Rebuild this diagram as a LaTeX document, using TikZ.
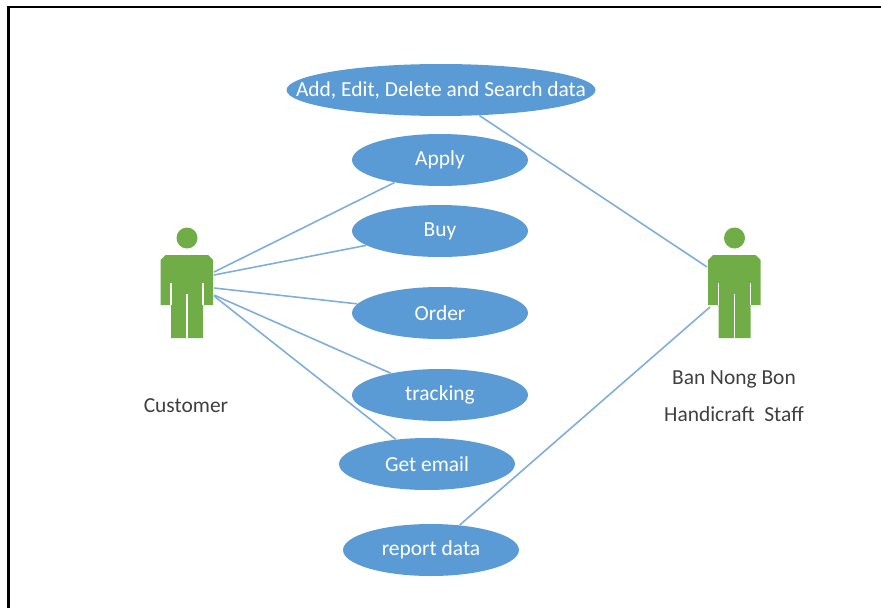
\documentclass[tikz,border=0pt]{standalone}
\usepackage{fontspec}
\setmainfont{Carlito}
\usetikzlibrary{shapes.geometric}
\definecolor{ucblue}{HTML}{5B9BD5}
\definecolor{lineblue}{HTML}{7FAEDB}
\definecolor{actgreen}{HTML}{70AD47}
\definecolor{txt}{HTML}{404040}
\newcommand{\ctext}[1]{\makebox[0pt][c]{\raisebox{-1pt}{#1}}}
\tikzset{
  x=0.02cm,y=-0.02cm,
  usecase/.style={ellipse,fill=ucblue,draw=none,inner sep=0pt,minimum width=3.52cm,minimum height=1.04cm,text=white,font=\fontsize{12.2}{14}\selectfont},
  link/.style={draw=lineblue,line width=0.9pt},
  lbl/.style={text=txt,font=\fontsize{12.2}{14}\selectfont,inner sep=0pt},
  actorbody/.pic={
    \fill[actgreen] (0,-9.5) circle[radius=10.5];
    \fill[actgreen] (-26.5,12.5) -- (-26.5,57.5) -- (-16,57.5) -- (-16,90.5) -- (16,90.5) -- (16,57.5) -- (26,57.5) -- (26,12.5) -- (21,7.5) -- (-21.5,7.5) -- cycle;
    \draw[white,line width=0.7pt] (-16,35.5) -- (-16,57.5) (16,35.5) -- (16,57.5) (0,46.5) -- (0,90.5);
  }
}
\begin{document}
\begin{tikzpicture}
\useasboundingbox (0,0) rectangle (881,608);
\fill[white] (0,0) rectangle (881,608);
\draw[black,line width=1.7pt] (8.5,608) -- (8.5,7) -- (881,7);
% actors
\path (187,247.5) pic {actorbody};
\path (734.5,247.5) pic {actorbody};
% use cases
\node[usecase,minimum width=6.18cm] (add) at (441,90) {\ctext{Add, Edit, Delete and Search data}};
\node[usecase] (apply) at (440,160) {\ctext{Apply}};
\node[usecase] (buy) at (440,231) {\ctext{Buy}};
\node[usecase] (order) at (440,313) {\ctext{Order}};
\node[usecase] (tracking) at (440,395) {\ctext{tracking}};
\node[usecase] (email) at (427,464) {\ctext{Get email}};
\node[usecase] (report) at (431,550) {\ctext{report data}};
% labels
\node[lbl] (customer) at (186,406) {Customer};
\node[lbl] (staffa) at (734,379) {Ban Nong Bon};
\node[lbl] (staffb) at (734,414) {Handicraft\ \ Staff};
% connector ends at the actors
\coordinate (c1) at (214,272);
\coordinate (c2) at (214,275);
\coordinate (c3) at (214,288);
\coordinate (c4) at (214,295);
\coordinate (c5) at (214,296);
\coordinate (s1) at (707,267);
\coordinate (s2) at (710,307);
\draw[link] (c1) -- (apply);
\draw[link] (c2) -- (buy);
\draw[link] (c3) -- (order);
\draw[link] (c4) -- (tracking);
\draw[link] (c5) -- (email);
\draw[link] (s1) -- (add);
\draw[link] (s2) -- (report);
\end{tikzpicture}
\end{document}
